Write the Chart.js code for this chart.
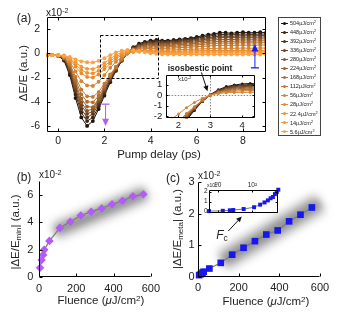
<!DOCTYPE html>
<html>
<head>
<meta charset="utf-8">
<script src="https://cdn.jsdelivr.net/npm/chart.js@4.4.0/dist/chart.umd.min.js"></script>
<style>
  body { margin: 0; background: #fff; }
  #wrap { position: relative; width: 339px; height: 319px; overflow: hidden;
          font-family: 'Liberation Sans', Arial, sans-serif; color: #222; }
  canvas { position: absolute; }
  .t { position: absolute; white-space: nowrap; line-height: 1; transform: translate(-50%, -50%); }
  .l { position: absolute; white-space: nowrap; line-height: 1; transform: translateY(-50%); }
  .r { transform: translate(-50%, -50%) rotate(-90deg); }
  sup { font-size: 70%; vertical-align: 0.45em; line-height: 0; }
  sub { font-size: 70%; vertical-align: -0.25em; line-height: 0; }
  #legend { position: absolute; left: 278px; top: 17px; width: 41px; height: 117px;
            border: 1px solid #444; background: #fff; }
  .row { position: absolute; left: 2px; height: 8px; font-size: 5.5px; line-height: 8px; white-space: nowrap; }
  .sym { position: absolute; left: 0; top: 3.5px; width: 7px; height: 1px; }
  .dot { position: absolute; left: 2px; top: 2.5px; width: 3px; height: 3px; border-radius: 50%; }
</style>
</head>
<body>
<div id="wrap">
  <canvas id="chA" width="270" height="145" style="left:0;top:0"></canvas>
  <canvas id="chAin" width="125" height="72" style="left:140px;top:60px"></canvas>
  <canvas id="chB" width="165" height="159" style="left:0;top:160px"></canvas>
  <canvas id="chC" width="174" height="159" style="left:165px;top:160px"></canvas>
  <canvas id="chCin" width="95" height="40" style="left:190px;top:178px"></canvas>

  <div class="t" style="left:24px;top:18px;font-size:12px">(a)</div>
  <div class="l" style="left:46px;top:13px;font-size:10px">x10<sup>-2</sup></div>
  <div class="t r" style="left:24px;top:73px;font-size:11.5px">ΔE/E (a.u.)</div>
  <div class="t" style="left:159px;top:155px;font-size:11.5px">Pump delay (ps)</div>
  <div class="t" style="left:200px;top:68px;font-size:8.5px;font-weight:bold">isosbestic point</div>
  <div class="l" style="left:178px;top:79px;font-size:6px">x10<sup>-2</sup></div>
  <div id="legend"></div>

  <div class="t" style="left:24px;top:177px;font-size:12px">(b)</div>
  <div class="l" style="left:39px;top:175px;font-size:10px">x10<sup>-2</sup></div>
  <div class="t r" style="left:16px;top:232px;font-size:11.5px">|ΔE/E<sub>min</sub>| (a.u.)</div>
  <div class="t" style="left:101px;top:301px;font-size:11.5px">Fluence (<i>μ</i>J/cm<sup>2</sup>)</div>

  <div class="t" style="left:173px;top:178px;font-size:12px">(c)</div>
  <div class="l" style="left:198px;top:176px;font-size:10px">x10<sup>-2</sup></div>
  <div class="t r" style="left:178px;top:229px;font-size:11.5px">|ΔE/E<sub>meta</sub>| (a.u.)</div>
  <div class="t" style="left:266px;top:302px;font-size:11.5px">Fluence (<i>μ</i>J/cm<sup>2</sup>)</div>
  <div class="t" style="left:222px;top:235px;font-size:12px"><i>F</i><sub>c</sub></div>
  <div class="l" style="left:207px;top:185px;font-size:5px">x10<sup>-2</sup></div>
</div>

<script>
// panel (a): pump-probe traces, 10^-2 units
const delays = [-0.5, -0.25, 0, 0.25, 0.5, 0.75, 1, 1.25, 1.5, 1.75, 2, 2.25, 2.5, 2.75, 3, 3.25, 3.5, 3.75,
  4, 4.25, 4.5, 4.75, 5, 5.25, 5.5, 5.75, 6, 6.25, 6.5, 6.75, 7, 7.25, 7.5, 7.75, 8, 8.25, 8.5, 8.75, 9];
const fluenceLabels = ['504', '448', '392', '336', '280', '224', '168', '112', '56', '28', '22.4', '14', '5.6'];

const s504 = [-0.15, -0.15, -0.2, -0.6, -1.8, -3.7, -5.3, -6.0, -5.6, -4.6, -3.5, -2.4, -1.45, -0.6, 0.05, 0.5, 0.8, 0.95, 1.05, 1.1, 1.05, 1.05, 1.1, 1.15, 1.2, 1.25, 1.35, 1.45, 1.55, 1.6, 1.7, 1.7, 1.65, 1.7, 1.75, 1.7, 1.7, 1.75, 1.7];
const s448 = [-0.15, -0.15, -0.2, -0.55, -1.6, -3.4, -4.9, -5.6, -5.3, -4.4, -3.35, -2.3, -1.4, -0.6, 0.02, 0.45, 0.72, 0.88, 0.95, 1.0, 0.98, 0.98, 1.02, 1.08, 1.12, 1.18, 1.25, 1.33, 1.42, 1.48, 1.55, 1.55, 1.52, 1.56, 1.6, 1.57, 1.57, 1.6, 1.58];
const s392 = [-0.15, -0.15, -0.2, -0.5, -1.5, -3.1, -4.6, -5.3, -5.0, -4.2, -3.2, -2.2, -1.35, -0.6, 0.0, 0.4, 0.65, 0.8, 0.88, 0.92, 0.9, 0.9, 0.95, 1.0, 1.05, 1.1, 1.15, 1.22, 1.3, 1.35, 1.42, 1.42, 1.4, 1.43, 1.46, 1.44, 1.44, 1.47, 1.45];
const s336 = [-0.15, -0.15, -0.2, -0.45, -1.35, -2.9, -4.3, -5.0, -4.8, -4.0, -3.05, -2.1, -1.3, -0.55, 0.0, 0.38, 0.6, 0.74, 0.8, 0.84, 0.83, 0.83, 0.88, 0.92, 0.96, 1.0, 1.05, 1.12, 1.18, 1.23, 1.3, 1.3, 1.28, 1.31, 1.34, 1.32, 1.32, 1.35, 1.33];
const s280 = [-0.15, -0.15, -0.2, -0.42, -1.2, -2.7, -4.05, -4.75, -4.6, -3.85, -2.95, -2.05, -1.25, -0.55, 0.0, 0.35, 0.55, 0.67, 0.72, 0.75, 0.74, 0.74, 0.78, 0.82, 0.86, 0.9, 0.94, 1.0, 1.06, 1.1, 1.15, 1.15, 1.13, 1.16, 1.19, 1.17, 1.17, 1.2, 1.18];
const s224 = [-0.15, -0.15, -0.18, -0.4, -1.1, -2.45, -3.75, -4.4, -4.45, -3.75, -2.85, -1.95, -1.2, -0.5, 0.0, 0.3, 0.48, 0.58, 0.63, 0.65, 0.64, 0.64, 0.68, 0.72, 0.75, 0.78, 0.82, 0.87, 0.92, 0.95, 1.0, 1.0, 0.98, 1.01, 1.03, 1.01, 1.01, 1.04, 1.02];
const s168 = [-0.15, -0.15, -0.18, -0.35, -0.95, -2.2, -3.4, -4.0, -4.05, -3.5, -2.7, -1.85, -1.15, -0.5, 0.0, 0.26, 0.4, 0.48, 0.52, 0.54, 0.53, 0.54, 0.57, 0.6, 0.63, 0.66, 0.7, 0.74, 0.78, 0.8, 0.85, 0.85, 0.83, 0.86, 0.88, 0.86, 0.86, 0.88, 0.87];
const s112 = [-0.15, -0.15, -0.18, -0.32, -0.85, -1.95, -3.0, -3.55, -3.6, -3.2, -2.5, -1.75, -1.1, -0.5, 0.0, 0.22, 0.32, 0.38, 0.4, 0.42, 0.41, 0.42, 0.44, 0.47, 0.49, 0.52, 0.55, 0.58, 0.61, 0.63, 0.66, 0.66, 0.65, 0.67, 0.68, 0.67, 0.67, 0.69, 0.68];
const s56 = [-0.15, -0.15, -0.17, -0.28, -0.7, -1.5, -2.3, -2.65, -2.7, -2.35, -1.8, -1.2, -0.7, -0.3, 0.0, 0.15, 0.22, 0.25, 0.26, 0.27, 0.27, 0.27, 0.29, 0.3, 0.32, 0.33, 0.35, 0.37, 0.39, 0.4, 0.42, 0.42, 0.41, 0.42, 0.43, 0.42, 0.42, 0.44, 0.43];
const s28 = [-0.15, -0.15, -0.16, -0.24, -0.55, -1.1, -1.65, -1.95, -2.0, -1.75, -1.3, -0.85, -0.45, -0.15, 0.05, 0.12, 0.15, 0.16, 0.16, 0.16, 0.16, 0.16, 0.17, 0.18, 0.19, 0.2, 0.21, 0.22, 0.23, 0.23, 0.24, 0.24, 0.23, 0.24, 0.25, 0.24, 0.24, 0.25, 0.24];
const s22 = [-0.15, -0.15, -0.16, -0.22, -0.48, -0.92, -1.38, -1.62, -1.65, -1.45, -1.05, -0.65, -0.3, -0.05, 0.1, 0.14, 0.15, 0.14, 0.12, 0.1, 0.09, 0.08, 0.09, 0.09, 0.1, 0.1, 0.11, 0.11, 0.12, 0.12, 0.13, 0.13, 0.12, 0.13, 0.13, 0.12, 0.12, 0.13, 0.12];
const s14 = [-0.15, -0.15, -0.15, -0.2, -0.4, -0.75, -1.1, -1.28, -1.3, -1.12, -0.8, -0.45, -0.15, 0.08, 0.18, 0.2, 0.18, 0.12, 0.06, 0.02, 0.0, -0.01, 0.0, 0.0, 0.01, 0.01, 0.02, 0.02, 0.02, 0.02, 0.03, 0.03, 0.02, 0.03, 0.03, 0.02, 0.02, 0.03, 0.02];
const s5 = [-0.15, -0.15, -0.15, -0.18, -0.3, -0.5, -0.66, -0.74, -0.75, -0.62, -0.4, -0.15, 0.08, 0.22, 0.28, 0.26, 0.2, 0.1, 0.0, -0.05, -0.08, -0.1, -0.1, -0.09, -0.1, -0.1, -0.09, -0.1, -0.1, -0.09, -0.1, -0.1, -0.09, -0.1, -0.1, -0.09, -0.1, -0.1, -0.09];
const seriesA = [s504, s448, s392, s336, s280, s224, s168, s112, s56, s28, s22, s14, s5];

const delayTicks = [0, 2, 4, 6, 8];
const signalTicks = [-6, -4, -2, 0, 2];
const insetDelayTicks = [2, 3, 4];
const insetSignalTicks = [-2, -1, 0, 1];

// panels (b) and (c)
const fluence = [5.6, 14, 22.4, 28, 56, 112, 168, 224, 280, 336, 392, 448, 504, 560];
const minSignal = [0.7, 1.26, 1.63, 2.0, 2.65, 3.6, 4.05, 4.5, 4.78, 5.02, 5.32, 5.58, 5.9, 6.05];
const metaSignal = [0.05, 0.08, 0.13, 0.16, 0.26, 0.44, 0.7, 0.92, 1.13, 1.34, 1.47, 1.76, 1.97, 2.2];
const fluenceTicks = [0, 200, 400, 600];
const minTicks = [0, 2, 4, 6];
const metaTicks = [0, 1, 2, 3];
const logTicks = [10, 100];
const insetMetaTicks = [0, 1, 2];

const colorsA = ['#1b120a', '#3b2614', '#57361c', '#6f4522', '#875428', '#9d622c', '#b26e2f',
  '#c47931', '#d78330', '#e58b2c', '#ef912b', '#f79733', '#fca145'];

Chart.defaults.font.family = "'Liberation Sans', Arial, sans-serif";
Chart.defaults.color = '#222';

// legend
const leg = document.getElementById('legend');
fluenceLabels.forEach((f, i) => {
  const row = document.createElement('div');
  row.className = 'row';
  row.style.top = (1 + i * 9.05) + 'px';
  row.innerHTML = `<span class="sym" style="background:${colorsA[i]}"></span>` +
    `<span class="dot" style="background:${colorsA[i]}"></span>` +
    `<span style="margin-left:9px">${f}μJ/cm<sup>2</sup></span>`;
  leg.appendChild(row);
});

function fixedTicks(vals) {
  return s => { s.ticks = vals.map(v => ({value: v})); };
}

function frame(sides, len) {
  return {
    id: 'frame',
    afterDatasetsDraw(chart) {
      const {ctx, chartArea: a, scales: {x, y}} = chart;
      ctx.save();
      ctx.strokeStyle = '#000';
      ctx.lineWidth = 1;
      ctx.beginPath();
      const L = Math.round(a.left) + 0.5, R = Math.round(a.right) - 0.5;
      const T = Math.round(a.top) + 0.5, B = Math.round(a.bottom) - 0.5;
      if (sides.includes('l')) { ctx.moveTo(L, T); ctx.lineTo(L, B); }
      if (sides.includes('b')) { ctx.moveTo(L, B); ctx.lineTo(R, B); }
      if (sides.includes('t')) { ctx.moveTo(L, T); ctx.lineTo(R, T); }
      if (sides.includes('r')) { ctx.moveTo(R, T); ctx.lineTo(R, B); }
      x.ticks.forEach(t => {
        const p = Math.round(x.getPixelForValue(t.value)) + 0.5;
        ctx.moveTo(p, B); ctx.lineTo(p, B - len);
        if (sides.includes('t')) { ctx.moveTo(p, T); ctx.lineTo(p, T + len); }
      });
      y.ticks.forEach(t => {
        const p = Math.round(y.getPixelForValue(t.value)) + 0.5;
        ctx.moveTo(L, p); ctx.lineTo(L + len, p);
        if (sides.includes('r')) { ctx.moveTo(R, p); ctx.lineTo(R - len, p); }
      });
      ctx.stroke();
      ctx.restore();
    }
  };
}

const whiteBox = {
  id: 'whiteBox',
  beforeDatasetsDraw(chart) {
    const {ctx, chartArea: a} = chart;
    ctx.save();
    ctx.fillStyle = '#fff';
    ctx.fillRect(a.left, a.top, a.right - a.left, a.bottom - a.top);
    ctx.restore();
  }
};

function arrowLine(ctx, x0, y0, x1, y1, color, head) {
  const ang = Math.atan2(y1 - y0, x1 - x0);
  ctx.strokeStyle = color;
  ctx.fillStyle = color;
  ctx.lineWidth = 1;
  ctx.beginPath();
  ctx.moveTo(x0, y0);
  ctx.lineTo(x1 - Math.cos(ang) * head * 0.8, y1 - Math.sin(ang) * head * 0.8);
  ctx.stroke();
  ctx.beginPath();
  ctx.moveTo(x1, y1);
  ctx.lineTo(x1 - head * Math.cos(ang - 0.45), y1 - head * Math.sin(ang - 0.45));
  ctx.lineTo(x1 - head * Math.cos(ang + 0.45), y1 - head * Math.sin(ang + 0.45));
  ctx.closePath();
  ctx.fill();
}

function capArrow(ctx, px, y0, y1, color) {
  ctx.lineWidth = 1.3;
  ctx.strokeStyle = color;
  ctx.beginPath();
  ctx.moveTo(px - 4, y0); ctx.lineTo(px + 4, y0);
  ctx.stroke();
  arrowLine(ctx, px, y0, px, y1, color, 8);
}

// zoom box (ps, 10^-2) and the two fluence arrows of panel (a)
const zoomBox = {x0: 1.8, x1: 4.3, y0: -2.05, y1: 1.5};
const downArrow = {x: 2.05, from: -4.2, to: -6.0};
const upArrow = {x: 8.52, from: -1.2, to: 0.75};

const annotA = {
  id: 'annotA',
  afterDatasetsDraw(chart) {
    const {ctx, scales: {x, y}} = chart;
    ctx.save();
    ctx.setLineDash([3, 2]);
    ctx.strokeStyle = '#000';
    ctx.lineWidth = 1;
    const bx0 = Math.round(x.getPixelForValue(zoomBox.x0)) + 0.5;
    const bx1 = Math.round(x.getPixelForValue(zoomBox.x1)) + 0.5;
    const by0 = Math.round(y.getPixelForValue(zoomBox.y0)) + 0.5;
    const by1 = Math.round(y.getPixelForValue(zoomBox.y1)) + 0.5;
    ctx.strokeRect(bx0, by1, bx1 - bx0, by0 - by1);
    ctx.setLineDash([]);
    capArrow(ctx, x.getPixelForValue(downArrow.x), y.getPixelForValue(downArrow.from), y.getPixelForValue(downArrow.to), '#b35cf2');
    capArrow(ctx, x.getPixelForValue(upArrow.x), y.getPixelForValue(upArrow.from), y.getPixelForValue(upArrow.to), '#1c1cf5');
    ctx.restore();
  }
};

const isoArrow = {x0: 2.72, y0: 2.15, x1: 2.91, y1: 0.37};
const annotAin = {
  id: 'annotAin',
  beforeDatasetsDraw(chart) {
    const {ctx, chartArea: a, scales: {x, y}} = chart;
    ctx.save();
    ctx.setLineDash([1.5, 1.5]);
    ctx.strokeStyle = '#888';
    ctx.lineWidth = 1;
    const px = Math.round(x.getPixelForValue(3)) + 0.5;
    const py = Math.round(y.getPixelForValue(0)) + 0.5;
    ctx.beginPath();
    ctx.moveTo(px, a.top); ctx.lineTo(px, a.bottom);
    ctx.moveTo(a.left, py); ctx.lineTo(a.right, py);
    ctx.stroke();
    ctx.restore();
  },
  afterDraw(chart) {
    const {ctx, scales: {x, y}} = chart;
    ctx.save();
    arrowLine(ctx, x.getPixelForValue(isoArrow.x0), y.getPixelForValue(isoArrow.y0),
      x.getPixelForValue(isoArrow.x1), y.getPixelForValue(isoArrow.y1), '#111', 6);
    ctx.restore();
  }
};

function band(p0, p1, width) {
  return {
    id: 'band',
    beforeDatasetsDraw(chart) {
      const {ctx, scales: {x, y}} = chart;
      const x0 = x.getPixelForValue(p0[0]), y0 = y.getPixelForValue(p0[1]);
      const x1 = x.getPixelForValue(p1[0]), y1 = y.getPixelForValue(p1[1]);
      ctx.save();
      ctx.filter = 'blur(5px)';
      ctx.lineCap = 'butt';
      ctx.strokeStyle = 'rgba(110,110,110,0.55)';
      ctx.lineWidth = width;
      ctx.beginPath(); ctx.moveTo(x0, y0); ctx.lineTo(x1, y1); ctx.stroke();
      ctx.filter = 'blur(3px)';
      ctx.strokeStyle = 'rgba(90,90,90,0.35)';
      ctx.lineWidth = width * 0.45;
      ctx.beginPath(); ctx.moveTo(x0, y0); ctx.lineTo(x1, y1); ctx.stroke();
      ctx.restore();
    }
  };
}

const fcArrow = {x0: 149, y0: 1.45, x1: 215, y1: 1.91};
const annotC = {
  id: 'annotC',
  afterDatasetsDraw(chart) {
    const {ctx, scales: {x, y}} = chart;
    ctx.save();
    arrowLine(ctx, x.getPixelForValue(fcArrow.x0), y.getPixelForValue(fcArrow.y0),
      x.getPixelForValue(fcArrow.x1), y.getPixelForValue(fcArrow.y1), '#111', 6);
    ctx.restore();
  }
};

function baseOptions(pad) {
  return {
    responsive: false, animation: false, devicePixelRatio: 1,
    layout: {padding: pad},
    plugins: {legend: {display: false}, tooltip: {enabled: false}},
    scales: {}
  };
}

function axis(extra) {
  return Object.assign({
    grid: {display: false, drawTicks: false},
    border: {display: false}
  }, extra);
}

// (a) main
const dsA = seriesA.map((s, i) => ({
  data: s.map((v, j) => ({x: delays[j], y: v})),
  borderColor: colorsA[i], backgroundColor: colorsA[i],
  pointBackgroundColor: colorsA[i], pointBorderWidth: 0,
  borderWidth: 1, pointRadius: 1.9, order: seriesA.length - i
}));
const optA = baseOptions({top: 17, right: 3.3, left: 0, bottom: 0});
optA.scales.x = axis({type: 'linear', min: -0.5, max: 9,
  ticks: {font: {size: 10.5}, padding: 3, maxRotation: 0, autoSkip: false},
  afterBuildTicks: fixedTicks(delayTicks), afterFit: s => { s.height = 13; }});
optA.scales.y = axis({type: 'linear', min: -6.5, max: 3,
  ticks: {font: {size: 10.5}, padding: 6.5, autoSkip: false},
  afterBuildTicks: fixedTicks(signalTicks), afterFit: s => { s.width = 46.7; }});
new Chart(document.getElementById('chA'), {
  type: 'line', data: {datasets: dsA}, options: optA,
  plugins: [frame('lbtr', 3), annotA]
});

// (a) inset
const dsAin = seriesA.slice(0, 9).map((s, i) => ({
  data: s.map((v, j) => ({x: delays[j], y: v})),
  borderColor: colorsA[i], backgroundColor: colorsA[i],
  pointBackgroundColor: colorsA[i], pointBorderWidth: 0,
  borderWidth: 1, pointRadius: 1.5, order: 9 - i
}));
const optAin = baseOptions({top: 15, right: 10, left: 0, bottom: 0});
optAin.scales.x = axis({type: 'linear', min: 1.6, max: 4.4,
  ticks: {font: {size: 9.5}, padding: 1.5, maxRotation: 0, autoSkip: false},
  afterBuildTicks: fixedTicks(insetDelayTicks), afterFit: s => { s.height = 13.7; }});
optAin.scales.y = axis({type: 'linear', min: -2.2, max: 1.9,
  ticks: {font: {size: 9.5}, padding: 3.4, autoSkip: false},
  afterBuildTicks: fixedTicks(insetSignalTicks), afterFit: s => { s.width = 25.7; }});
new Chart(document.getElementById('chAin'), {
  type: 'line', data: {datasets: dsAin}, options: optAin,
  plugins: [whiteBox, annotAin, frame('lbtr', 2)]
});

// (b)
const optB = baseOptions({top: 21.2, right: 12, left: 0, bottom: 0});
optB.scales.x = axis({type: 'linear', min: 0, max: 600,
  ticks: {font: {size: 11}, padding: 5, maxRotation: 0, autoSkip: false},
  afterBuildTicks: fixedTicks(fluenceTicks), afterFit: s => { s.height = 41.7; }});
optB.scales.y = axis({type: 'linear', min: 0, max: 7,
  ticks: {font: {size: 11}, padding: 5.7, autoSkip: false},
  afterBuildTicks: fixedTicks(minTicks), afterFit: s => { s.width = 39; }});
new Chart(document.getElementById('chB'), {
  type: 'line',
  data: {datasets: [{
    data: fluence.map((f, i) => ({x: f, y: minSignal[i]})),
    borderColor: '#7a7a7a', borderWidth: 1.2,
    pointStyle: 'rectRot', pointRadius: 4.3, pointBorderWidth: 0,
    pointBackgroundColor: '#b35cf5', clip: false
  }]},
  options: optB,
  plugins: [band([85, 3.35], [575, 6.15], 16), frame('lb', 3)]
});

// (c)
const optC = baseOptions({top: 22.3, right: 19, left: 0, bottom: 0});
optC.scales.x = axis({type: 'linear', min: 0, max: 600,
  ticks: {font: {size: 11}, padding: 4.5, maxRotation: 0, autoSkip: false},
  afterBuildTicks: fixedTicks(fluenceTicks), afterFit: s => { s.height = 42.3; }});
optC.scales.y = axis({type: 'linear', min: 0, max: 3,
  ticks: {font: {size: 11}, padding: 3.5, autoSkip: false},
  afterBuildTicks: fixedTicks(metaTicks), afterFit: s => { s.width = 33; }});
new Chart(document.getElementById('chC'), {
  type: 'line',
  data: {datasets: [{
    data: fluence.map((f, i) => ({x: f, y: metaSignal[i]})),
    borderColor: '#7a7a7a', borderWidth: 1.2,
    pointStyle: 'rect', pointRadius: 4.7, pointBorderWidth: 0,
    pointBackgroundColor: '#1616f0', clip: false
  }]},
  options: optC,
  plugins: [band([120, 0.5], [600, 2.35], 20), frame('lb', 3), annotC]
});

// (c) inset, log fluence axis on top
const optCin = baseOptions({top: 0, right: 6.7, left: 0, bottom: 4.7});
optCin.scales.x = axis({type: 'logarithmic', position: 'top', min: 5.6, max: 560,
  ticks: {font: {size: 6.5}, padding: 1, maxRotation: 0, autoSkip: false,
    callback: v => v === 100 ? '10²' : String(v)},
  afterBuildTicks: fixedTicks(logTicks), afterFit: s => { s.height = 12; }});
optCin.scales.y = axis({type: 'linear', min: -0.1, max: 2.17,
  ticks: {font: {size: 6.5}, padding: 1.5, autoSkip: false},
  afterBuildTicks: fixedTicks(insetMetaTicks), afterFit: s => { s.width = 19; }});
new Chart(document.getElementById('chCin'), {
  type: 'line',
  data: {datasets: [{
    data: fluence.map((f, i) => ({x: f, y: metaSignal[i]})),
    borderColor: '#7a7a7a', borderWidth: 1,
    pointStyle: 'rect', pointRadius: 2.8, pointBorderWidth: 0,
    pointBackgroundColor: '#1616f0', clip: false
  }]},
  options: optCin,
  plugins: [whiteBox, frame('lbtr', 2)]
});
</script>
</body>
</html>
